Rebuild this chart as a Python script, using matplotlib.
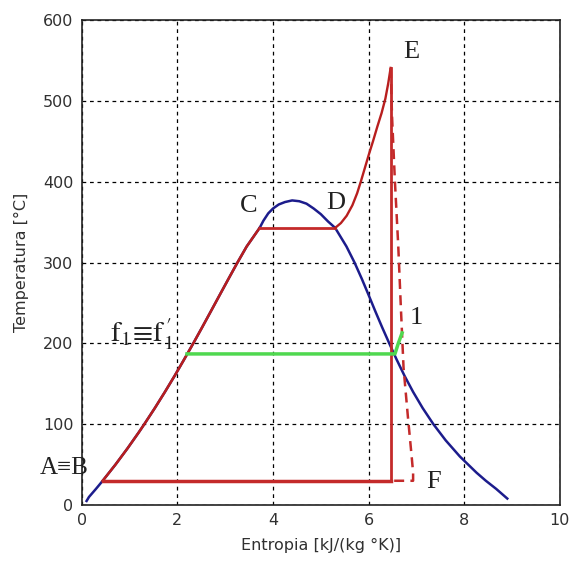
import matplotlib
matplotlib.use('Agg')
import matplotlib.pyplot as plt

# Curva de saturacion (liquido saturado) [kJ/(kg K)], [C]
s_liq = [0.10, 0.151, 0.297, 0.437, 0.704, 0.955, 1.193, 1.307, 1.528, 1.739, 1.943, 2.139,
         2.331, 2.518, 2.702, 2.885, 3.069, 3.255, 3.449, 3.72]
T_liq = [5, 10, 20, 30, 50, 70, 90, 100, 120, 140, 160, 180,
         200, 220, 240, 260, 280, 300, 320, 343]
# Parte alta de la campana
s_top = [3.72, 3.80, 3.90, 4.00, 4.12, 4.25, 4.40, 4.55, 4.70, 4.85, 5.00, 5.15, 5.30]
T_top = [343, 352, 361, 367, 372, 375, 377, 376, 373, 367, 360, 351, 343]
# Vapor saturado
s_vap = [5.30, 5.536, 5.706, 5.857, 5.999, 6.138, 6.282, 6.432, 6.586, 6.750, 6.930,
         7.130, 7.355, 7.612, 7.909, 8.257, 8.452, 8.667, 8.90]
T_vap = [343, 320, 300, 280, 260, 240, 220, 200, 180, 160, 140,
         120, 100, 80, 60, 40, 30, 20, 8]

# Ciclo (rojo)
s_AC = [0.437, 0.704, 0.955, 1.193, 1.307, 1.528, 1.739, 1.943, 2.139,
        2.331, 2.518, 2.702, 2.885, 3.069, 3.255, 3.449, 3.72]
T_AC = [30, 50, 70, 90, 100, 120, 140, 160, 180,
        200, 220, 240, 260, 280, 300, 320, 343]
s_CD = [3.72, 5.30]
T_CD = [343, 343]
s_DE = [5.30, 5.42, 5.54, 5.66, 5.76, 5.84, 5.92, 6.00, 6.09, 6.18, 6.27, 6.35, 6.41, 6.46]
T_DE = [343, 349, 358, 371, 386, 401, 417, 433, 450, 468, 485, 503, 522, 541]
s_EF_iso = [6.46, 6.46]
T_EF_iso = [541, 30]
s_EF_real = [6.46, 6.49, 6.55, 6.62, 6.67, 6.73, 6.82, 6.90, 6.93, 6.93, 6.46]
T_EF_real = [541, 480, 400, 320, 250, 170, 110, 60, 40, 30, 30]
s_FA = [0.437, 6.46]
T_FA = [30, 30]

# Extraccion (verde)
s_ext = [2.20, 6.55, 6.62, 6.70]
T_ext = [187, 187, 200, 213]

plt.rcParams['font.family'] = 'DejaVu Sans'
plt.rcParams['mathtext.fontset'] = 'stix'

fig = plt.figure(figsize=(5.76, 5.63), dpi=100)
ax = fig.add_axes([0.142, 0.103, 0.830, 0.861])

azul = '#1c1c8c'
rojo = '#c42a2a'
verde = '#4fd84f'

ax.plot(s_liq, T_liq, color=azul, lw=1.8)
ax.plot(s_top, T_top, color=azul, lw=1.8)
ax.plot(s_vap, T_vap, color=azul, lw=1.8)

ax.plot(s_AC, T_AC, color='#b81e1e', lw=1.8)
ax.plot(s_CD, T_CD, color=rojo, lw=2.0)
ax.plot(s_DE, T_DE, color='#b81e1e', lw=1.7)
ax.plot(s_EF_real, T_EF_real, color=rojo, lw=1.8, ls=(0, (4, 2.5)))
ax.plot(s_EF_iso, T_EF_iso, color=rojo, lw=2.0)
ax.plot(s_FA, T_FA, color=rojo, lw=2.5)
ax.plot(s_ext, T_ext, color=verde, lw=2.5)

ax.set_xlim(0, 10)
ax.set_ylim(0, 600)
ax.set_xticks([0, 2, 4, 6, 8, 10])
ax.set_yticks([0, 100, 200, 300, 400, 500, 600])
ax.grid(True, color='black', ls=(0, (3, 3)), lw=0.9)
ax.tick_params(length=0, pad=6, labelsize=11.5, labelcolor='#303030')
for sp in ax.spines.values():
    sp.set_linewidth(1.2)
    sp.set_color('#222222')

ax.set_xlabel('Entropia [kJ/(kg °K)]', fontsize=11.5, color='#303030', labelpad=7)
ax.set_ylabel('Temperatura [°C]', fontsize=11.5, color='#303030', labelpad=10)

serif = ['Liberation Serif', 'DejaVu Serif']
ax.text(3.49, 370, 'C', family=serif, fontsize=19, ha='center', va='center', color='#222222')
ax.text(5.31, 374, 'D', family=serif, fontsize=19, ha='center', va='center', color='#222222')
ax.text(6.9, 561, 'E', family=serif, fontsize=19, ha='center', va='center', color='#222222')
ax.text(7.0, 231, '1', family=serif, fontsize=19, ha='center', va='center', color='#222222')
ax.text(7.36, 28, 'F', family=serif, fontsize=19, ha='center', va='center', color='#222222')
ax.text(-0.36, 46, 'A≡B', family=serif, fontsize=18, ha='center', va='center', color='#222222')
ax.text(1.26, 211, r"$\mathrm{f}_1\!\equiv\!\mathrm{f}^{\,\prime}_1$", fontsize=21, ha='center',
        va='center', color='#222222')

plt.savefig('out.png', dpi=100)
